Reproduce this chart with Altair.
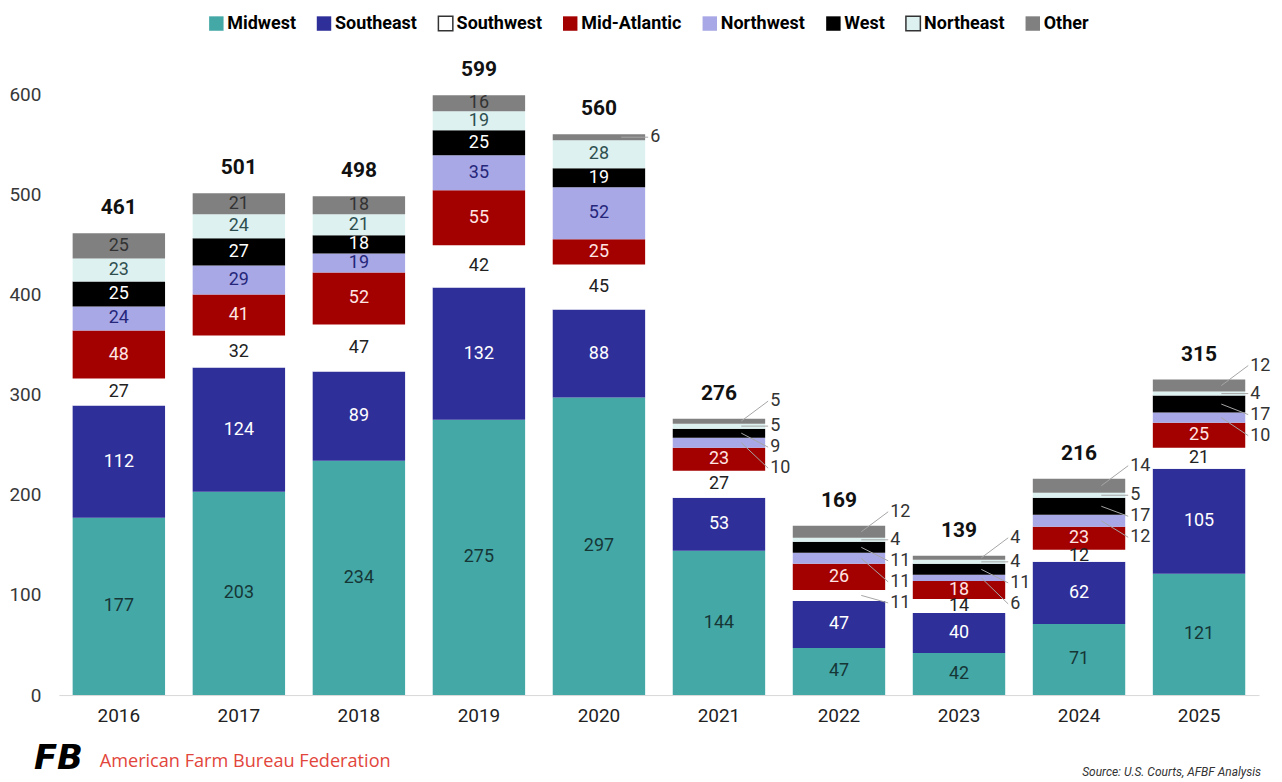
import altair as alt
import pandas as pd

years = ["2016", "2017", "2018", "2019", "2020", "2021", "2022", "2023", "2024", "2025"]
regions = ["Midwest", "Southeast", "Southwest", "Mid-Atlantic", "Northwest", "West", "Northeast", "Other"]

midwest = [177, 203, 234, 275, 297, 144, 47, 42, 71, 121]
southeast = [112, 124, 89, 132, 88, 53, 47, 40, 62, 105]
southwest = [27, 32, 47, 42, 45, 27, 11, 14, 12, 21]
mid_atlantic = [48, 41, 52, 55, 25, 23, 26, 18, 23, 25]
northwest = [24, 29, 19, 35, 52, 10, 11, 6, 12, 10]
west = [25, 27, 18, 25, 19, 9, 11, 11, 17, 17]
northeast = [23, 24, 21, 19, 28, 5, 4, 4, 5, 4]
other = [25, 21, 18, 16, 6, 5, 12, 4, 14, 12]

series = [midwest, southeast, southwest, mid_atlantic, northwest, west, northeast, other]

bar_colors = ["#44A8A7", "#2F2F99", "#FFFFFF", "#A30000", "#A8A8E6", "#000000", "#DDF1F1", "#808080"]
legend_strokes = ["transparent", "transparent", "#333333", "transparent", "transparent", "transparent", "#333333", "transparent"]
text_colors = ["#163636", "#FFFFFF", "#222222", "#FFE4E4", "#26267A", "#FFFFFF", "#2F4F4F", "#333333"]

# segments whose values are written beside the bar (with a leader line)
outside = {
    "2020": ["Other"],
    "2021": ["Other", "Northeast", "West", "Northwest"],
    "2022": ["Other", "Northeast", "West", "Northwest", "Southwest"],
    "2023": ["Other", "Northeast", "West", "Northwest"],
    "2024": ["Other", "Northeast", "West", "Northwest"],
    "2025": ["Other", "Northeast", "West", "Northwest"],
}

FONT = "Roboto, Liberation Sans, sans-serif"

rows = []
totals = []
for i, yr in enumerate(years):
    base = 0
    yr_rows = []
    for j, reg in enumerate(regions):
        v = series[j][i]
        r = dict(year=yr, region=reg, value=v, y0=base, y1=base + v,
                 mid=base + v / 2, order=j,
                 out=reg in outside.get(yr, []))
        base += v
        yr_rows.append(r)
    totals.append(dict(year=yr, total=base))
    # spread the outside labels from the top down
    outs = sorted([r for r in yr_rows if r["out"]], key=lambda r: -r["order"])
    prev = None
    for k, r in enumerate(outs):
        if k == 0:
            r["lab"] = r["mid"] + (20 if len(outs) > 1 else 0)
        else:
            r["lab"] = min(r["mid"], prev - 21)
        prev = r["lab"]
    for r in yr_rows:
        r.setdefault("lab", r["mid"])
    rows.extend(yr_rows)

df = pd.DataFrame(rows)
df_in = df[~df["out"]]
df_out = df[df["out"]]
df_tot = pd.DataFrame(totals)

xscale = alt.Scale(domain=years, paddingInner=0.23, paddingOuter=0.115)
yscale = alt.Scale(domain=[0, 640], nice=False)
xaxis = alt.Axis(title=None, labelFont=FONT, labelFontSize=19, labelColor="#222222",
                 ticks=False, domainColor="#D9D9D9", domainWidth=1, labelPadding=12,
                 labelAngle=0, grid=False)
yaxis = alt.Axis(title=None, labelFont=FONT, labelFontSize=19, labelColor="#383838",
                 ticks=False, domain=False, grid=False, values=[0, 100, 200, 300, 400, 500, 600],
                 labelPadding=18)

legend = alt.Legend(
    orient="none", legendX=149, legendY=-40, direction="horizontal", title=None,
    symbolType="square", symbolSize=210, labelFont=FONT, labelFontSize=18,
    labelFontWeight="bold", labelColor="#000000", columnPadding=17, labelOffset=2,
    padding=0, columns=8, symbolStrokeWidth=1.5, symbolOpacity=1,
)

bars = alt.Chart(df).mark_bar(strokeWidth=0).encode(
    x=alt.X("year:N", scale=xscale, axis=xaxis),
    y=alt.Y("y0:Q", scale=yscale, axis=yaxis),
    y2="y1:Q",
    color=alt.Color("region:N", scale=alt.Scale(domain=regions, range=bar_colors), legend=legend),
    stroke=alt.Stroke("region:N", scale=alt.Scale(domain=regions, range=legend_strokes), legend=legend),
)

inside_text = alt.Chart(df_in).mark_text(font=FONT, fontSize=18, baseline="middle").encode(
    x=alt.X("year:N", scale=xscale, axis=xaxis),
    y=alt.Y("mid:Q", scale=yscale, axis=yaxis),
    text="value:Q",
    fill=alt.Fill("region:N", scale=alt.Scale(domain=regions, range=text_colors), legend=None),
)

leaders = alt.Chart(df_out).mark_rule(color="#A6A6A6", strokeWidth=1, xOffset=-24, x2Offset=3).encode(
    x=alt.X("year:N", scale=xscale, axis=xaxis, bandPosition=1),
    x2=alt.X2("year", bandPosition=1),
    y=alt.Y("mid:Q", scale=yscale, axis=yaxis),
    y2="lab:Q",
)

outside_text = alt.Chart(df_out).mark_text(font=FONT, fontSize=18, align="left", baseline="middle",
                                           dx=5, color="#333333").encode(
    x=alt.X("year:N", scale=xscale, axis=xaxis, bandPosition=1),
    y=alt.Y("lab:Q", scale=yscale, axis=yaxis),
    text="value:Q",
)

total_text = alt.Chart(df_tot).mark_text(font=FONT, fontSize=21, fontWeight="bold", baseline="middle",
                                         dy=-25, color="#111111").encode(
    x=alt.X("year:N", scale=xscale, axis=xaxis),
    y=alt.Y("total:Q", scale=yscale, axis=yaxis),
    text="total:Q",
)

footer_df = pd.DataFrame({"t": ["American Farm Bureau Federation"]})
footer = alt.Chart(footer_df).mark_text(font="Open Sans, sans-serif", fontSize=18.2, align="left",
                                        baseline="middle", color="#E2453B").encode(
    x=alt.value(41), y=alt.value(710), text="t:N")

logo_df = pd.DataFrame({"t": ["FB"]})
logo = alt.Chart(logo_df).mark_text(font="DejaVu Sans, sans-serif", fontSize=34, fontWeight="bold",
                                    fontStyle="italic", align="left", baseline="middle",
                                    color="#000000").encode(
    x=alt.value(-25), y=alt.value(707), text="t:N")

source_df = pd.DataFrame({"t": ["Source: U.S. Courts, AFBF Analysis"]})
source = alt.Chart(source_df).mark_text(font=FONT, fontSize=12, fontStyle="italic", align="right",
                                        baseline="middle", color="#333333").encode(
    x=alt.value(1206), y=alt.value(720), text="t:N")

chart = alt.layer(bars, inside_text, leaders, outside_text, total_text, footer, logo, source).properties(
    width=1204, height=643,
    autosize=alt.AutoSizeParams(type="none"),
    padding={"left": 51, "top": 45, "right": 15, "bottom": 84},
    background="white",
).configure_view(stroke=None)

chart.save("out.html", embed_options={"renderer": "svg", "actions": False})
